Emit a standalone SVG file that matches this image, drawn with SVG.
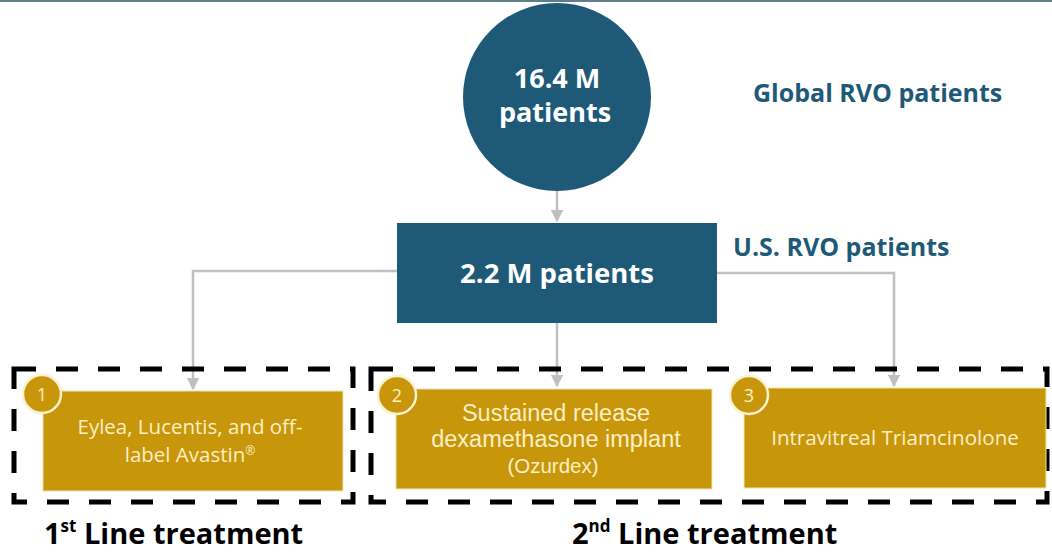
<svg xmlns="http://www.w3.org/2000/svg" width="1052" height="552" viewBox="0 0 1052 552">
  <style>
    .navy { fill: #1e5a78; }
    .gold { fill: #c8960a; stroke: #f3e3a8; stroke-width: 1; }
    .badge { fill: #c8960a; stroke: #fbf1cf; stroke-width: 2.5; }
    .wt { fill: #ffffff; font-family: "Open Sans", Lato, sans-serif; font-weight: bold; text-anchor: middle; }
    .lbl { fill: #1e5a78; font-family: "Open Sans", Lato, sans-serif; font-weight: bold; }
    .cream { fill: #fcefc4; font-family: "Open Sans", Lato, sans-serif; text-anchor: middle; }
    .cream-arial { fill: #fcefc4; font-family: "Liberation Sans", Arial, sans-serif; text-anchor: middle; }
    .num { fill: #fcefc4; font-family: "Open Sans", Lato, sans-serif; font-size: 18px; text-anchor: middle; }
    .conn { fill: none; stroke: #c0c0c0; stroke-width: 2.5; }
    .dash { fill: none; stroke: #000000; stroke-width: 5; stroke-dasharray: 22 20; }
    .head { fill: #000000; font-family: "Open Sans", Lato, sans-serif; font-weight: bold; font-size: 29px; }
  </style>
  <defs>
    <marker id="arrow" viewBox="0 0 10 10" refX="9" refY="5" markerWidth="5" markerHeight="5" orient="auto">
      <path d="M0,0 L10,5 L0,10 z" fill="#c0c0c0"/>
    </marker>
  </defs>

  <rect width="1052" height="552" fill="#ffffff"/>
  <rect x="0" y="0" width="1052" height="2" fill="#5f7e8e"/>

  <!-- connectors -->
  <g id="connectors">
    <path class="conn" d="M557,189 V221" marker-end="url(#arrow)"/>
    <path class="conn" d="M397,271 H193 V389" marker-end="url(#arrow)"/>
    <path class="conn" d="M557,323 V386" marker-end="url(#arrow)"/>
    <path class="conn" d="M717,273 H894 V386" marker-end="url(#arrow)"/>
  </g>

  <!-- treatment-line groupings -->
  <g id="groups">
    <rect class="dash" x="14" y="369" width="339" height="133"/>
    <rect class="dash" x="371" y="369" width="676" height="133"/>
  </g>

  <g id="global">
    <circle class="navy" cx="557" cy="97" r="94"/>
    <text class="wt" x="557" y="88" font-size="27">16.4 M</text>
    <text class="wt" x="555" y="122" font-size="27">patients</text>
    <text class="lbl" x="753" y="102" font-size="25">Global RVO patients</text>
  </g>

  <g id="us">
    <rect class="navy" x="397" y="223" width="320" height="100"/>
    <text class="wt" x="557" y="283" font-size="27.5">2.2 M patients</text>
    <text class="lbl" x="733" y="256" font-size="25">U.S. RVO patients</text>
  </g>

  <g id="first-line">
    <rect class="gold" x="43" y="391" width="300" height="100"/>
    <text class="cream" x="190" y="434" font-size="20.5">Eylea, Lucentis, and off-</text>
    <text class="cream" x="190" y="462" font-size="20.5">label Avastin<tspan font-size="12" dy="-7">®</tspan></text>
    <circle class="badge" cx="42" cy="394" r="19"/>
    <text class="num" x="42" y="401">1</text>
  </g>

  <g id="second-line-a">
    <rect class="gold" x="396" y="389" width="316" height="100"/>
    <text class="cream-arial" x="556" y="421" font-size="23.5">Sustained release</text>
    <text class="cream-arial" x="556" y="447" font-size="23.5">dexamethasone implant</text>
    <text class="cream-arial" x="553" y="473" font-size="20.5">(Ozurdex)</text>
    <circle class="badge" cx="397" cy="395" r="19"/>
    <text class="num" x="397" y="402">2</text>
  </g>

  <g id="second-line-b">
    <rect class="gold" x="744" y="388" width="302" height="100"/>
    <text class="cream" x="895" y="445" font-size="20.6">Intravitreal Triamcinolone</text>
    <circle class="badge" cx="749" cy="395" r="19"/>
    <text class="num" x="749" y="402">3</text>
  </g>

  <g id="captions">
    <text class="head" x="44" y="544">1<tspan font-size="17" dy="-12">st</tspan><tspan dy="12"> Line treatment</tspan></text>
    <text class="head" x="572" y="544">2<tspan font-size="17" dy="-12">nd</tspan><tspan dy="12"> Line treatment</tspan></text>
  </g>
</svg>
